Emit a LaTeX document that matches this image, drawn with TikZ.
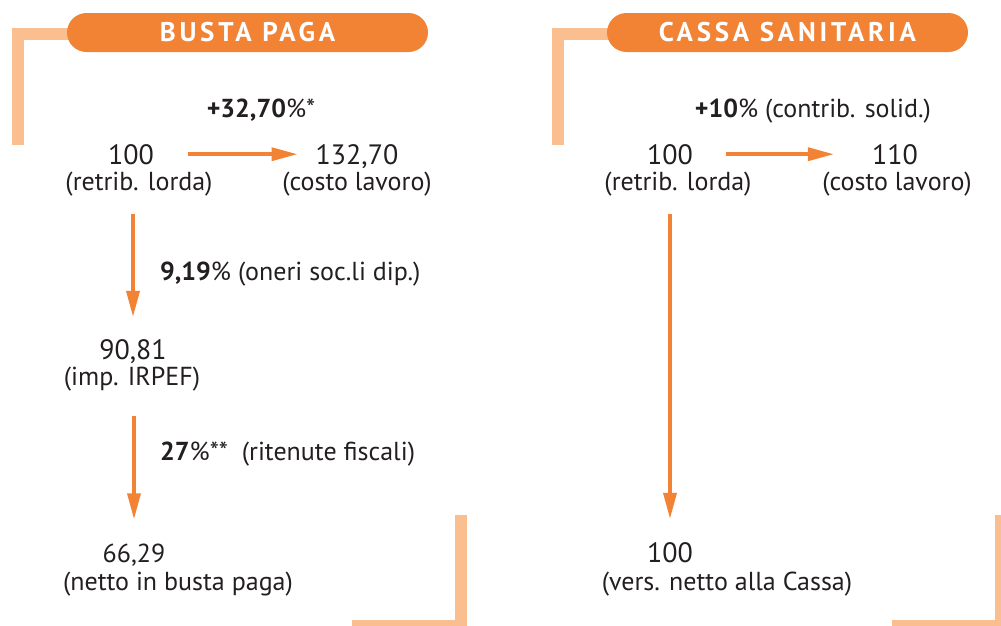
\documentclass[tikz,border=0pt]{standalone}
\usepackage{fontspec}
\setmainfont{PT Sans}
\usetikzlibrary{arrows.meta}
\definecolor{orD}{HTML}{F28335}
\definecolor{orL}{HTML}{FBBE8E}
\definecolor{txt}{HTML}{231F20}
\tikzset{
  bracket/.style={draw=orL, line width=12pt, line cap=butt, line join=miter},
  pill/.style={fill=orD, rounded corners=19.5pt, minimum width=361pt, minimum height=39pt, inner sep=0pt,
    text=white, font=\fontsize{27}{30}\selectfont\bfseries\addfontfeatures{LetterSpace=14}},
  num/.style={anchor=base, inner sep=0pt, text=txt, font=\fontsize{28}{32}\selectfont},
  lbl/.style={anchor=base, inner sep=0pt, text=txt, font=\fontsize{26}{30}\selectfont},
  arr/.style={draw=orD, line width=3.5pt, -{Triangle[length=26pt,width=13pt]}},
}
\begin{document}
\begin{tikzpicture}[x=1pt,y=-1pt]
\useasboundingbox (0,0) rectangle (1001,625);
% brackets
\draw[bracket] (17.5,145) -- (17.5,34) -- (90,34);
\draw[bracket] (557.5,145) -- (557.5,34) -- (630,34);
\draw[bracket] (461,515) -- (461,626) -- (352,626);
\draw[bracket] (1001,515) -- (1001,626) -- (892,626);
% titles
\node[pill] (t1) at (247.5,32.5) {BUSTA PAGA};
\node[pill] (t2) at (787.5,32.5) {CASSA SANITARIA};
% left panel
\node[lbl] (p1) at (261,117) {\textbf{+32,70}\%*};
\node[num] (a1) at (131,164) {100};
\node[lbl] (a1l) at (139,190) {(retrib. lorda)};
\node[num] (b1) at (357,164) {132,70};
\node[lbl] (b1l) at (357,190) {(costo lavoro)};
\node[lbl, anchor=base west] (p2) at (160,280) {\textbf{9,19}\% (oneri soc.li dip.)};
\node[num] (c1) at (133,359) {90,81};
\node[lbl] (c1l) at (132,385) {(imp. IRPEF)};
\node[lbl, anchor=base west] (p3) at (160,460) {\textbf{27}\%**\ \ (ritenute fiscali)};
\node[lbl] (d1) at (134,562) {66,29};
\node[lbl] (d1l) at (178,590) {(netto in busta paga)};
% right panel
\node[lbl] (q1) at (813,117) {\textbf{+10}\% (contrib. solid.)};
\node[num] (a2) at (670,164) {100};
\node[lbl] (a2l) at (678,190) {(retrib. lorda)};
\node[num] (b2) at (895,164) {110};
\node[lbl] (b2l) at (897,190) {(costo lavoro)};
\node[num] (d2) at (670,562) {100};
\node[lbl] (d2l) at (727,590) {(vers. netto alla Cassa)};
% arrows
\draw[arr, shorten <=34pt, shorten >=18pt] (a1.east) -- (a1.east -| b1.west);
\draw[arr, shorten <=18pt, shorten >=22pt] (c1.north |- a1l.south) -- (c1.north);
\draw[arr, shorten <=25pt, shorten >=24pt] (d1.north |- c1l.south) -- (d1.north);
\draw[arr, shorten <=33pt, shorten >=38pt] (a2.east) -- (a2.east -| b2.west);
\draw[arr, shorten <=18pt, shorten >=23pt] (d2.north |- a2l.south) -- (d2.north);
\end{tikzpicture}
\end{document}
